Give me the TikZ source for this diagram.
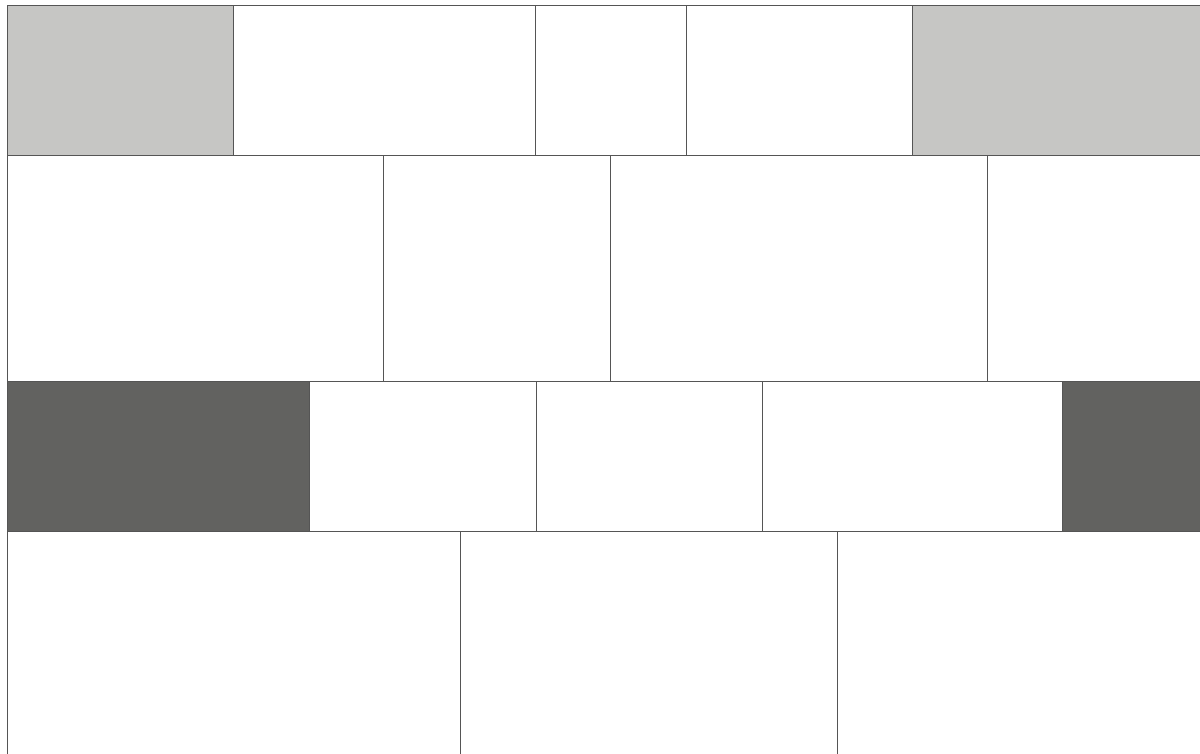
\documentclass[tikz,border=0pt]{standalone}
\usepackage{tikz}
\usetikzlibrary{positioning}
\definecolor{lightstone}{HTML}{C6C6C4}
\definecolor{darkstone}{HTML}{626260}
\definecolor{joint}{HTML}{555555}

\begin{document}
\begin{tikzpicture}[
	  brick/.style={draw=joint, line width=0.6pt, fill=white, inner sep=0pt, outer sep=0pt},
	  lightbrick/.style={brick, fill=lightstone},
	  darkbrick/.style={brick, fill=darkstone},
	  low/.style={minimum height=3.75cm},
	  high/.style={minimum height=5.65cm}]
	  \useasboundingbox (0,0) rectangle (30,-18.825);
	  \clip (0,0) rectangle (30,-18.825);
	  % first course
	  \node[lightbrick, low, minimum width=5.65cm, anchor=north west] (r1a) at (0.175,-0.125) {};
	  \node[brick, low, minimum width=7.55cm, right=0pt of r1a] (r1b) {};
	  \node[brick, low, minimum width=3.775cm, right=0pt of r1b] (r1c) {};
	  \node[brick, low, minimum width=5.65cm, right=0pt of r1c] (r1d) {};
	  \node[lightbrick, low, minimum width=7.55cm, right=0pt of r1d] (r1e) {};
	  % second course
	  \node[brick, high, minimum width=9.4cm, anchor=north west] (r2a) at (r1a.south west) {};
	  \node[brick, high, minimum width=5.675cm, right=0pt of r2a] (r2b) {};
	  \node[brick, high, minimum width=9.425cm, right=0pt of r2b] (r2c) {};
	  \node[brick, high, minimum width=7.55cm, right=0pt of r2c] (r2d) {};
	  % third course
	  \node[darkbrick, low, minimum width=7.55cm, anchor=north west] (r3a) at (r2a.south west) {};
	  \node[brick, low, minimum width=5.675cm, right=0pt of r3a] (r3b) {};
	  \node[brick, low, minimum width=5.65cm, right=0pt of r3b] (r3c) {};
	  \node[brick, low, minimum width=7.5cm, right=0pt of r3c] (r3d) {};
	  \node[darkbrick, low, minimum width=5.65cm, right=0pt of r3d] (r3e) {};
	  % fourth course
	  \node[brick, high, minimum width=11.325cm, anchor=north west] (r4a) at (r3a.south west) {};
	  \node[brick, high, minimum width=9.425cm, right=0pt of r4a] (r4b) {};
	  \node[brick, high, minimum width=9.425cm, right=0pt of r4b] (r4c) {};
	\end{tikzpicture}
\end{document}
